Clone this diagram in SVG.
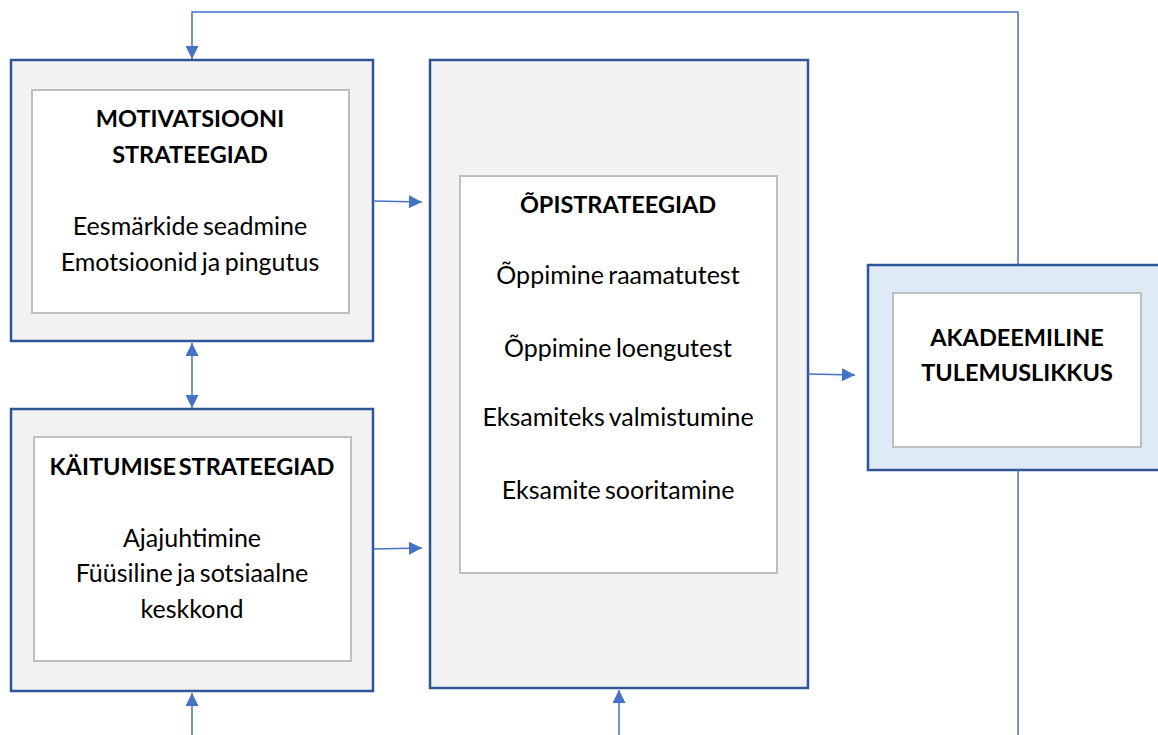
<svg xmlns="http://www.w3.org/2000/svg" width="1158" height="735" viewBox="0 0 1158 735">
<style>
.outer{fill:#F2F2F2;stroke:#2F5597;stroke-width:2.5}
.outerb{fill:#DEEBF7;stroke:#2F5597;stroke-width:2.5}
.inner{fill:#FFFFFF;stroke:#BFBFBF;stroke-width:2}
.t{font-family:Lato,"Liberation Sans",sans-serif;font-size:25px;word-spacing:-2px;fill:#000;text-anchor:middle}
.b{font-weight:bold;font-size:23.5px;word-spacing:-3px}
.c{fill:none;stroke:#4472C4;stroke-width:1.5}
</style>
<defs>
<marker id="ah" viewBox="0 0 10 10" refX="10" refY="5" markerWidth="14" markerHeight="13" markerUnits="userSpaceOnUse" orient="auto-start-reverse">
<path d="M0,0 L10,5 L0,10 Z" fill="#4472C4"/>
</marker>
</defs>
<rect width="1158" height="735" fill="#FFFFFF"/>
<g id="motivatsioon">
<rect class="outer" x="11" y="60" width="362" height="281"/>
<rect class="inner" x="32" y="90" width="317" height="223"/>
<text class="t b" x="190" y="127">MOTIVATSIOONI</text>
<text class="t b" x="190" y="163">STRATEEGIAD</text>
<text class="t" x="190" y="235">Eesmärkide seadmine</text>
<text class="t" x="190" y="271">Emotsioonid ja pingutus</text>
</g>
<g id="kaitumine">
<rect class="outer" x="11" y="409" width="362" height="282"/>
<rect class="inner" x="34" y="437" width="317" height="224"/>
<text class="t b" x="192" y="475">KÄITUMISE STRATEEGIAD</text>
<text class="t" x="192" y="547">Ajajuhtimine</text>
<text class="t" x="192" y="582">Füüsiline ja sotsiaalne</text>
<text class="t" x="192" y="618">keskkond</text>
</g>
<g id="opistrateegiad">
<rect class="outer" x="430" y="60" width="378" height="628"/>
<rect class="inner" x="460" y="176" width="317" height="397"/>
<text class="t b" x="618" y="213">ÕPISTRATEEGIAD</text>
<text class="t" x="618" y="284">Õppimine raamatutest</text>
<text class="t" x="618" y="357">Õppimine loengutest</text>
<text class="t" x="618" y="426">Eksamiteks valmistumine</text>
<text class="t" x="618" y="499">Eksamite sooritamine</text>
</g>
<g id="akadeemiline">
<rect class="outerb" x="868" y="265" width="292" height="205"/>
<rect class="inner" x="893" y="293" width="248" height="154"/>
<text class="t b" x="1017" y="346">AKADEEMILINE</text>
<text class="t b" x="1017" y="381">TULEMUSLIKKUS</text>
</g>
<g id="connectors">
<path class="c" d="M1018,265 V12 H192 V59" marker-end="url(#ah)"/>
<path class="c" d="M1018,470 V735"/>
<path class="c" d="M192,343 V408" marker-start="url(#ah)" marker-end="url(#ah)"/>
<path class="c" d="M192,735 V693" marker-end="url(#ah)"/>
<path class="c" d="M619,735 V690" marker-end="url(#ah)"/>
<path class="c" d="M373,201 L422,202" marker-end="url(#ah)"/>
<path class="c" d="M373,549 L422,548" marker-end="url(#ah)"/>
<path class="c" d="M808,374 L855,375" marker-end="url(#ah)"/>
</g>
</svg>
